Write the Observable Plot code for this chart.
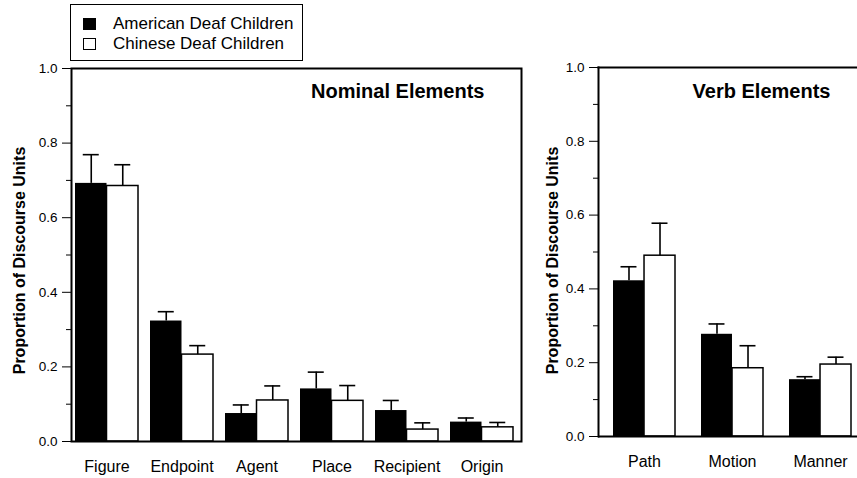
<!DOCTYPE html>
<html>
<head>
<meta charset="utf-8">
<script src="https://cdn.jsdelivr.net/npm/d3@7"></script>
<script src="https://cdn.jsdelivr.net/npm/@observablehq/plot@0.6"></script>
<style>
  html, body { margin: 0; padding: 0; background: #fff; overflow: hidden; }
  body { width: 857px; height: 478px; position: relative; font-family: "Liberation Sans", Arial, Helvetica, sans-serif; }
  .panel { position: absolute; top: 0; overflow: hidden; }
  #left { left: 0; width: 535px; height: 478px; }
  #right { left: 530px; width: 327px; height: 478px; }
  .panel svg { max-width: none !important; }
  #legend { position: absolute; left: 70px; top: 4px; width: 231px; height: 55px; border: 1.5px solid #000; background: #fff; z-index: 2; }
  .row { position: absolute; left: 0; height: 20px; width: 231px; }
  .sw { position: absolute; left: 12px; top: 3px; width: 13px; height: 12px; box-sizing: border-box; border: 1.5px solid #000; }
  .lab { position: absolute; left: 42px; top: 0px; font-size: 17px; line-height: 17px; color: #000; white-space: nowrap; }
</style>
</head>
<body>
<div id="left" class="panel"></div>
<div id="right" class="panel"></div>
<div id="legend"></div>
<script>
// ---- data ----
const groups = ["American Deaf Children", "Chinese Deaf Children"];
const groupColors = ["#000000", "#ffffff"];

const nominalCats = ["Figure", "Endpoint", "Agent", "Place", "Recipient", "Origin"];
const nominalAmerican = [0.692, 0.323, 0.075, 0.141, 0.083, 0.052];
const nominalAmericanErr = [0.077, 0.025, 0.023, 0.045, 0.027, 0.011];
const nominalChinese = [0.685, 0.233, 0.110, 0.109, 0.032, 0.038];
const nominalChineseErr = [0.057, 0.024, 0.039, 0.041, 0.018, 0.013];

const verbCats = ["Path", "Motion", "Manner"];
const verbAmerican = [0.422, 0.277, 0.154];
const verbAmericanErr = [0.038, 0.028, 0.008];
const verbChinese = [0.490, 0.185, 0.195];
const verbChineseErr = [0.088, 0.061, 0.020];

const yMajorTicks = [0, 0.2, 0.4, 0.6, 0.8, 1.0];
const yMinorTicks = [0.1, 0.3, 0.5, 0.7, 0.9];
const yLabel = "Proportion of Discourse Units";
const nominalTitle = "Nominal Elements";
const verbTitle = "Verb Elements";

// ---- drawing ----
const FONT = "Liberation Sans, Arial, Helvetica, sans-serif";

function rows(cats, vals, errs, group) {
  return cats.map((c, i) => ({ cat: c, value: vals[i], top: vals[i] + errs[i], group }));
}

function panel(o) {
  const height = 478;
  const innerW = o.width - o.marginLeft - o.marginRight - o.insetLeft - o.insetRight;
  const step = innerW / (o.cats.length - o.paddingInner);
  const bw = step * (1 - o.paddingInner);
  const half = bw / 2;
  const capW = 16;
  const dataA = rows(o.cats, o.am, o.amErr, groups[0]);
  const dataC = rows(o.cats, o.ch, o.chErr, groups[1]);
  const frameMarks = o.openRight
    ? [Plot.frame({ anchor: "left", stroke: "#000", strokeWidth: 2 }),
       Plot.frame({ anchor: "top", stroke: "#000", strokeWidth: 2 }),
       Plot.ruleY([0], { stroke: "#000", strokeWidth: 2 })]
    : [Plot.frame({ stroke: "#000", strokeWidth: 2 })];
  return Plot.plot({
    width: o.width,
    height,
    marginLeft: o.marginLeft,
    marginRight: o.marginRight,
    marginTop: o.marginTop,
    marginBottom: o.marginBottom,
    style: { fontFamily: FONT, background: "transparent", overflow: "hidden", maxWidth: "none" },
    x: { type: "band", domain: o.cats, paddingInner: o.paddingInner, paddingOuter: 0, insetLeft: o.insetLeft, insetRight: o.insetRight },
    y: { domain: [0, 1] },
    marks: [
      Plot.barY(dataA, { x: "cat", y: "value", fill: groupColors[0], insetRight: half }),
      Plot.barY(dataC, { x: "cat", y: "value", fill: groupColors[1], stroke: "#000", strokeWidth: 1.5, insetLeft: half }),
      Plot.ruleX(dataA, { x: "cat", y1: "value", y2: "top", dx: -half / 2, stroke: "#000", strokeWidth: 1.6 }),
      Plot.ruleX(dataC, { x: "cat", y1: "value", y2: "top", dx: half / 2, stroke: "#000", strokeWidth: 1.6 }),
      Plot.tickY(dataA, { x: "cat", y: "top", insetLeft: half / 2 - capW / 2, insetRight: bw - half / 2 - capW / 2, stroke: "#000", strokeWidth: 1.6 }),
      Plot.tickY(dataC, { x: "cat", y: "top", insetLeft: half + half / 2 - capW / 2, insetRight: half / 2 - capW / 2, stroke: "#000", strokeWidth: 1.6 }),
      ...frameMarks,
      Plot.axisY(yMajorTicks, { tickSize: 9, tickPadding: 5, tickFormat: d3.format(".1f"), fontSize: 13.5, label: null }),
      Plot.axisY(yMinorTicks, { tickSize: 5, tickFormat: () => "", label: null }),
      Plot.axisX({ tickSize: 0, tickPadding: 19, fontSize: 16, label: null }),
      Plot.text([yLabel], { frameAnchor: "left", textAnchor: "middle", rotate: -90, dx: o.labelDx, dy: o.labelDy, fontSize: 16, fontWeight: "bold", fill: "#000" }),
      Plot.text([o.title], { frameAnchor: o.titleAnchor, dx: o.titleDx, dy: o.titleDy, fontSize: 20, fontWeight: "bold", fill: "#000" })
    ]
  });
}

document.getElementById("left").append(panel({
  cats: nominalCats, am: nominalAmerican, amErr: nominalAmericanErr, ch: nominalChinese, chErr: nominalChineseErr,
  title: nominalTitle, width: 535, marginLeft: 71, marginRight: 14, marginTop: 68, marginBottom: 37,
  insetLeft: 4, insetRight: 8, paddingInner: 0.16,
  titleAnchor: "top-right", titleDx: -37, titleDy: 15, labelDx: -52, labelDy: 5.5
}));

// right panel: its frame continues past the page's right edge, as in the original figure
document.getElementById("right").append(panel({
  cats: verbCats, am: verbAmerican, amErr: verbAmericanErr, ch: verbChinese, chErr: verbChineseErr,
  title: verbTitle, width: 327, marginLeft: 68, marginRight: -9, marginTop: 67, marginBottom: 42,
  insetLeft: 13.7, insetRight: 15, paddingInner: 0.30, openRight: true,
  titleAnchor: "top", titleDx: 29, titleDy: 16, labelDx: -46, labelDy: 8.5
}));

// legend (HTML)
const legend = document.getElementById("legend");
groups.forEach((g, i) => {
  const row = document.createElement("div");
  row.className = "row";
  row.style.top = (10 + i * 20) + "px";
  const sw = document.createElement("div");
  sw.className = "sw";
  sw.style.background = groupColors[i];
  const lab = document.createElement("div");
  lab.className = "lab";
  lab.textContent = g;
  row.append(sw, lab);
  legend.append(row);
});
</script>
</body>
</html>
